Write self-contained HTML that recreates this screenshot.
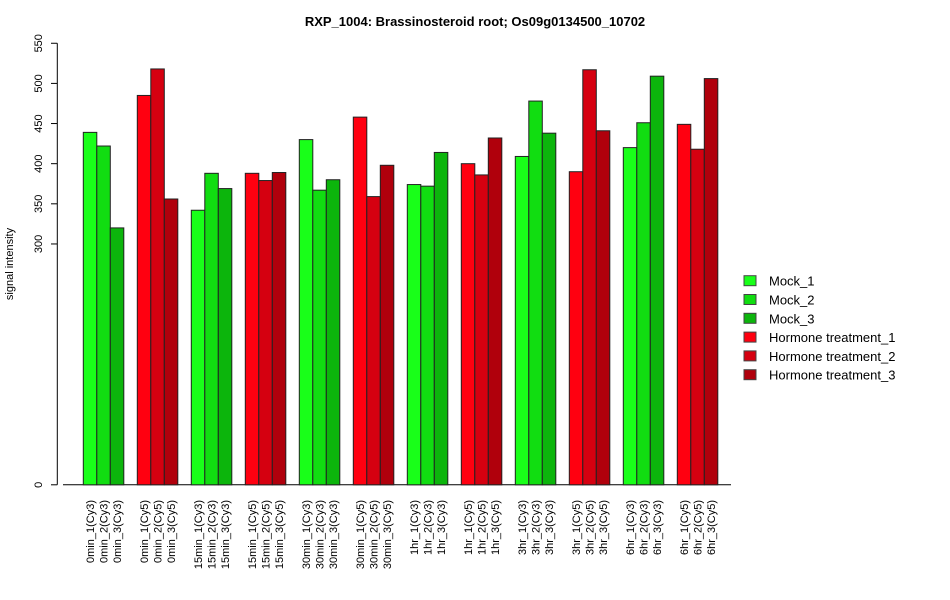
<!DOCTYPE html>
<html><head><meta charset="utf-8"><style>
body{margin:0;background:#fff}
svg{display:block;font-family:"Liberation Sans",Arial,sans-serif}
</style></head><body>
<svg id="chart" width="950" height="600">
<text x="475" y="26" text-anchor="middle" font-size="13" font-weight="bold">RXP_1004: Brassinosteroid root; Os09g0134500_10702</text>
<text transform="translate(13,264) rotate(-90)" text-anchor="middle" font-size="11">signal intensity</text>
<g id="yaxis"></g>
<g id="bars"></g>
<g id="xlabels"></g>
<g id="legend"></g>
</svg>
<script>
const categories=["0min_1(Cy3)","0min_2(Cy3)","0min_3(Cy3)","0min_1(Cy5)","0min_2(Cy5)","0min_3(Cy5)","15min_1(Cy3)","15min_2(Cy3)","15min_3(Cy3)","15min_1(Cy5)","15min_2(Cy5)","15min_3(Cy5)","30min_1(Cy3)","30min_2(Cy3)","30min_3(Cy3)","30min_1(Cy5)","30min_2(Cy5)","30min_3(Cy5)","1hr_1(Cy3)","1hr_2(Cy3)","1hr_3(Cy3)","1hr_1(Cy5)","1hr_2(Cy5)","1hr_3(Cy5)","3hr_1(Cy3)","3hr_2(Cy3)","3hr_3(Cy3)","3hr_1(Cy5)","3hr_2(Cy5)","3hr_3(Cy5)","6hr_1(Cy3)","6hr_2(Cy3)","6hr_3(Cy3)","6hr_1(Cy5)","6hr_2(Cy5)","6hr_3(Cy5)"];
const values=[439,422,320,485,518,356,342,388,369,388,379,389,430,367,380,458,359,398,374,372,414,400,386,432,409,478,438,390,517,441,420,451,509,449,418,506];
const yTicks=[0,300,350,400,450,500,550];
const seriesNames=["Mock_1","Mock_2","Mock_3","Hormone treatment_1","Hormone treatment_2","Hormone treatment_3"];
const colors=["#19ff19","#11dd11","#0cb50c","#ff0010","#d50010","#b0000c"];
const NS="http://www.w3.org/2000/svg";
const y0=484.8,k=200.7/250;
function yScale(v){return y0-v*k;}
function xScale(i){const g=Math.floor(i/3),j=i%3;return 83.3+g*54+j*13.5;}
const bw=13.5;
function mk(t,a,p){const e=document.createElementNS(NS,t);for(const n in a)e.setAttribute(n,a[n]);p.appendChild(e);return e;}
const ya=document.getElementById('yaxis');
mk('line',{x1:57.3,x2:57.3,y1:yScale(0),y2:yScale(550),stroke:'#000'},ya);
mk('line',{x1:63,x2:731,y1:y0,y2:y0,stroke:'#000'},ya);
yTicks.forEach(t=>{
  const y=yScale(t);
  const l=mk('line',{x1:51,x2:57.3,y1:y,y2:y,stroke:'#000'},ya);
  
  
  const tx=mk('text',{transform:`translate(42,${y}) rotate(-90)`,'text-anchor':'middle','font-size':11},ya);
  tx.textContent=t;
  
  
});
const bars=document.getElementById('bars'),xl=document.getElementById('xlabels');
values.forEach((v,i)=>{
  const x=xScale(i),y=yScale(v);
  const r=mk('rect',{x:x,y:y,width:bw,height:y0-y,fill:colors[Math.floor(i/3)%2*3+i%3],stroke:'#222','stroke-width':1},bars);
  
  
  const t=mk('text',{transform:`translate(${x+bw/2+4},500) rotate(-90)`,'text-anchor':'end','font-size':11},xl);
  t.textContent=categories[i];
  
  
});
const lg=document.getElementById('legend');
seriesNames.forEach((n,i)=>{
  const cy=280.7+i*18.8;
  const r=mk('rect',{x:744,y:cy-5,width:12,height:10,fill:colors[i],stroke:'#444'},lg);
  
  
  const t=mk('text',{x:769,y:cy+5,'font-size':13},lg);
  t.textContent=n;
  
  
});
</script>
</body></html>
